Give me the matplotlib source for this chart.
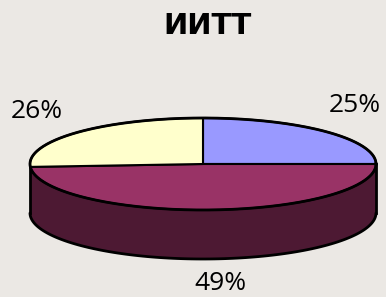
import numpy as np
import matplotlib.pyplot as plt
from matplotlib.patches import Polygon

# ── Data ──────────────────────────────────────────────────────────────────
TITLE = "ИИТТ"
labels = ["25%", "49%", "26%"]
values = [25, 49, 26]
top_colors = ["#9999FF", "#993366", "#FFFFCC"]
side_colors = ["#5C5C99", "#4D1933", "#99997A"]

# ── Layout (pixels) ───────────────────────────────────────────────────────
W, H = 386, 297
CX, CY = 203, 164
RX, RY = 173, 46
DEPTH = 49
BG = "#EBE8E4"
LW = 2.0


def arc(t0, t1, n=120):
    t = np.radians(np.linspace(t0, t1, n))
    return CX + RX * np.cos(t), CY - RY * np.sin(t)


fig = plt.figure(figsize=(W / 100, H / 100), dpi=100, facecolor=BG)
ax = fig.add_axes([0, 0, 1, 1])
ax.set_xlim(0, W)
ax.set_ylim(H, 0)
ax.axis("off")

fracs = np.array(values) / sum(values)
starts = 90 - 360 * np.concatenate([[0], np.cumsum(fracs)[:-1]])
ends = starts - 360 * fracs

# sides (front half only: angles between -180 and 0)
for s, e, col in zip(starts, ends, side_colors):
    lo, hi = max(e, -180), min(s, 0)
    if lo >= hi:
        continue
    x, y = arc(hi, lo)
    px = np.concatenate([x, x[::-1]])
    py = np.concatenate([y, y[::-1] + DEPTH])
    ax.add_patch(Polygon(np.c_[px, py], closed=True, fc=col, ec="none", zorder=1))

# side outline
x, y = arc(0, -180)
ax.plot(x, y + DEPTH, color="black", lw=LW, zorder=2, solid_capstyle="round")
ax.plot([CX + RX, CX + RX], [CY, CY + DEPTH], color="black", lw=LW, zorder=2)
ax.plot([CX - RX, CX - RX], [CY, CY + DEPTH], color="black", lw=LW, zorder=2)

# top faces
for s, e, col in zip(starts, ends, top_colors):
    x, y = arc(s, e)
    px = np.concatenate([[CX], x])
    py = np.concatenate([[CY], y])
    ax.add_patch(Polygon(np.c_[px, py], closed=True, fc=col, ec="black",
                         lw=1.5, joinstyle="round", zorder=3))

x, y = arc(0, 360, 360)
ax.plot(x, y, color="black", lw=LW, zorder=4)

# labels
label_pos = [(355, 106), (220, 283), (37, 112)]
for lab, (lx, ly) in zip(labels, label_pos):
    ax.text(lx, ly, lab, fontsize=19, ha="center", va="center",
            family="Open Sans", color="black")

ax.text(207, 26, TITLE, fontsize=21, fontweight="heavy", ha="center",
        va="center", family="DejaVu Sans", color="black")

fig.savefig("out.png", dpi=100, facecolor=BG)
